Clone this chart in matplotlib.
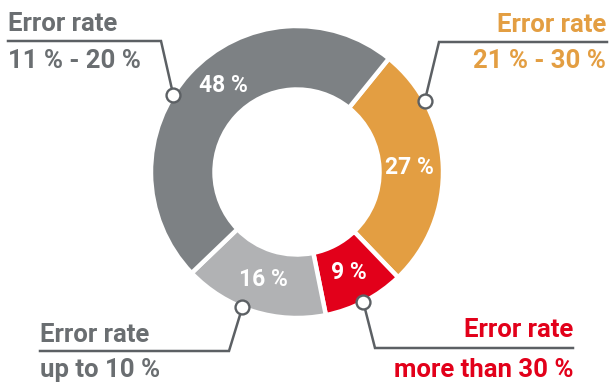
import numpy as np
import matplotlib
matplotlib.use("Agg")
import matplotlib.pyplot as plt

# ---- data ----
categories = ["Error rate\n21 % - 30 %", "Error rate\nmore than 30 %",
              "Error rate\nup to 10 %", "Error rate\n11 % - 20 %"]
values = [27, 9, 16, 48]
pct_labels = ["27 %", "9 %", "16 %", "48 %"]

# ---- style ----
colors = ["#e39e42", "#e2001a", "#b1b2b4", "#7d8184"]
text_colors = ["#e39e42", "#e2001a", "#6a6e71", "#6a6e71"]
line_color = "#5c6064"
plt.rcParams['font.family'] = ['Roboto', 'DejaVu Sans']

W, H = 610, 383
fig = plt.figure(figsize=(W / 100, H / 100), dpi=100)
ax = fig.add_axes([0, 0, 1, 1])

cx, cy = 297, 172
R = 146
ring = 63.5
start_cw_from_top = 39.0  # degrees, clockwise from 12 o'clock

wedges, _ = ax.pie(values, colors=colors, startangle=-(90 - start_cw_from_top),
                   counterclock=True, center=(cx, cy), radius=R,
                   wedgeprops=dict(width=ring, edgecolor="white", linewidth=3.2))
ax.set_xlim(0, W)
ax.set_ylim(H, 0)
ax.set_aspect('auto')
ax.axis('off')

def pt(angle_cw_top, r):
    a = np.deg2rad(angle_cw_top)
    return cx + r * np.sin(a), cy - r * np.cos(a)

# percentage labels (mid-angle, with a shift for the big wedge)
label_shift = [0, 0, 0, 7]
cum = np.cumsum([0] + values)
total = sum(values)
for i, lab in enumerate(pct_labels):
    mid = start_cw_from_top + 360 * (cum[i] + cum[i + 1]) / 2 / total + label_shift[i]
    x, y = pt(mid, 113)
    ax.text(x, y, lab, color="white", fontsize=16.5, fontweight="bold",
            ha="center", va="center")

# callouts: marker angle, elbow point, horizontal line end, text anchor
marker_angles = [61, 153, 202, 302]
elbows = [(439, 42), (375, 348), (229, 351), (161, 41)]
line_ends = [607, 573, 40, 8]
text_x = [606, 573, 40, 8]
text_ha = ["right", "right", "left", "left"]
line1_y = [32, 337, 342, 31]
line2_y = [68, 377, 377, 68]

for i in range(4):
    mx, my = pt(marker_angles[i], R)
    ex, ey = elbows[i]
    ax.plot([mx, ex, line_ends[i]], [my, ey, ey], color=line_color, lw=1.8,
            solid_joinstyle="miter", zorder=3)
    ax.plot([mx], [my], marker="o", ms=10, mfc="white", mec=line_color,
            mew=1.7, zorder=4)
    l1, l2 = categories[i].split("\n")
    ax.text(text_x[i], line1_y[i], l1, color=text_colors[i], fontsize=18.5,
            fontweight="bold", ha=text_ha[i], va="baseline")
    ax.text(text_x[i], line2_y[i], l2, color=text_colors[i], fontsize=18.5,
            fontweight="bold", ha=text_ha[i], va="baseline")

fig.savefig("out.png", dpi=100)
